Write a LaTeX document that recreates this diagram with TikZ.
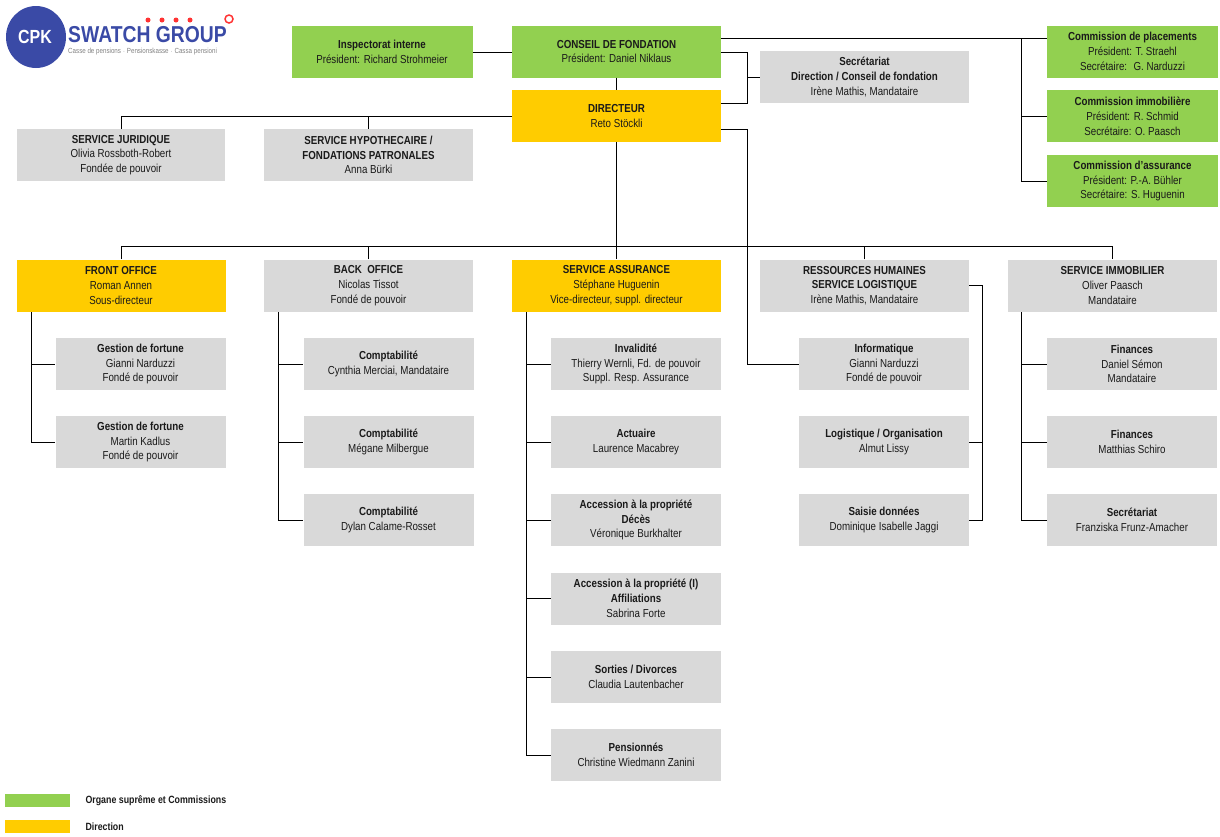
\documentclass[tikz,border=0pt]{standalone}
\usepackage{fontspec}
\setmainfont{Liberation Sans}[FakeStretch=0.84]
\definecolor{gr}{HTML}{92D050}
\definecolor{ye}{HTML}{FFCC00}
\definecolor{gy}{HTML}{D9D9D9}
\definecolor{lb}{HTML}{3A4AA6}
\definecolor{tx}{HTML}{1A1A1A}
\begin{document}
\begin{tikzpicture}[x=1pt,y=-1pt,
 bx/.style={inner sep=0pt,align=center,text=tx,font=\fontsize{11.6}{14.8}\selectfont,minimum height=52pt},
 G/.style={bx,fill=gy}, Gr/.style={bx,fill=gr}, Y/.style={bx,fill=ye},
 wl/.style={minimum width=209pt}, wc/.style={minimum width=171pt}, ws/.style={minimum width=170pt},
 ln/.style={draw=black,line width=0.9pt}]
\useasboundingbox (0,0) rectangle (1220,836);
% logo
\fill[lb] (36,37) ellipse (30 and 31);
\node[text=white,font=\bfseries\fontsize{19}{19}\selectfont] (cpk) at (35,37) {CPK};
\node[anchor=base west,text=lb,font=\bfseries\fontsize{23}{23}\selectfont,inner sep=0pt] (sg) at (68,42) {SWATCH GROUP};
\node[anchor=base west,text=gray,font=\fontsize{7.4}{8}\selectfont,inner sep=0pt] (tag) at (68,53) {Casse de pensions $\cdot$ Pensionskasse $\cdot$ Cassa pensioni};
\foreach \xx in {148,162,176,190}{\fill[red!80] (\xx,20) circle (2.5);}
\draw[red!80,line width=1.5pt] (229,19) circle (4);
% top
\node[Gr,minimum width=181pt] (insp) at (382,51.5) {\textbf{Inspectorat interne}\\Président: Richard Strohmeier};
\node[Gr,wl] (cons) at (616.5,51.5) {\textbf{CONSEIL DE FONDATION}\\Président: Daniel Niklaus};
\node[G,wl] (secr) at (864.5,77) {\textbf{Secrétariat}\\\textbf{Direction / Conseil de fondation}\\Irène Mathis, Mandataire};
\node[Y,wl] (dir) at (616.5,116) {\textbf{DIRECTEUR}\\Reto Stöckli};
\node[Gr,wc] (cp) at (1132.5,51.5) {\textbf{Commission de placements}\\Président: T. Straehl\\Secrétaire:~ G. Narduzzi};
\node[Gr,wc] (ci) at (1132.5,116) {\textbf{Commission immobilière}\\Président: R. Schmid\\Secrétaire: O. Paasch};
\node[Gr,wc] (ca) at (1132.5,181) {\textbf{Commission d’assurance}\\Président: P.-A. Bühler\\Secrétaire: S. Huguenin};
\node[G,minimum width=208pt] (jur) at (121,155) {\textbf{SERVICE JURIDIQUE}\\Olivia Rossboth-Robert\\Fondée de pouvoir};
\node[G,wl] (hyp) at (368.5,155) {\textbf{SERVICE HYPOTHECAIRE /}\\\textbf{FONDATIONS PATRONALES}\\Anna Bürki};
% row
\node[Y,wl] (fo) at (121,285.5) {\textbf{FRONT OFFICE}\\Roman Annen\\Sous-directeur};
\node[G,wl] (bo) at (368.5,285.5) {\textbf{BACK~ OFFICE}\\Nicolas Tissot\\Fondé de pouvoir};
\node[Y,wl] (sa) at (616.5,285.5) {\textbf{SERVICE ASSURANCE}\\Stéphane Huguenin\\Vice-directeur, suppl. directeur};
\node[G,wl] (rh) at (864.5,285.5) {\textbf{RESSOURCES HUMAINES}\\\textbf{SERVICE LOGISTIQUE}\\Irène Mathis, Mandataire};
\node[G,wl] (si) at (1112.5,285.5) {\textbf{SERVICE IMMOBILIER}\\Oliver Paasch\\Mandataire};
% subs
\node[G,ws] (fo1) at (140.5,364) {\textbf{Gestion de fortune}\\Gianni Narduzzi\\Fondé de pouvoir};
\node[G,ws] (fo2) at (140.5,442) {\textbf{Gestion de fortune}\\Martin Kadlus\\Fondé de pouvoir};
\node[G,ws] (bo1) at (388.5,364) {\textbf{Comptabilité}\\Cynthia Merciai, Mandataire};
\node[G,ws] (bo2) at (388.5,442) {\textbf{Comptabilité}\\Mégane Milbergue};
\node[G,ws] (bo3) at (388.5,520) {\textbf{Comptabilité}\\Dylan Calame-Rosset};
\node[G,ws] (sa1) at (636,364) {\textbf{Invalidité}\\Thierry Wernli, Fd. de pouvoir\\Suppl. Resp. Assurance};
\node[G,ws] (sa2) at (636,442) {\textbf{Actuaire}\\Laurence Macabrey};
\node[G,ws] (sa3) at (636,520) {\textbf{Accession à la propriété}\\\textbf{Décès}\\Véronique Burkhalter};
\node[G,ws] (sa4) at (636,598.5) {\textbf{Accession à la propriété (I)}\\\textbf{Affiliations}\\Sabrina Forte};
\node[G,ws] (sa5) at (636,677) {\textbf{Sorties / Divorces}\\Claudia Lautenbacher};
\node[G,ws] (sa6) at (636,755) {\textbf{Pensionnés}\\Christine Wiedmann Zanini};
\node[G,ws] (rh1) at (884,364) {\textbf{Informatique}\\Gianni Narduzzi\\Fondé de pouvoir};
\node[G,ws] (rh2) at (884,442) {\textbf{Logistique / Organisation}\\Almut Lissy};
\node[G,ws] (rh3) at (884,520) {\textbf{Saisie données}\\Dominique Isabelle Jaggi};
\node[G,ws] (si1) at (1132,364) {\textbf{Finances}\\Daniel Sémon\\Mandataire};
\node[G,ws] (si2) at (1132,442) {\textbf{Finances}\\Matthias Schiro};
\node[G,ws] (si3) at (1132,520) {\textbf{Secrétariat}\\Franziska Frunz-Amacher};
% legend
\node[Gr,minimum width=65pt,minimum height=13pt] (lg) at (37.5,800.5) {};
\node[Y,minimum width=65pt,minimum height=13pt] (ly) at (37.5,826.5) {};
\node[anchor=west,text=tx,font=\bfseries\fontsize{10.5}{12}\selectfont] (lgt) at (82,800.5) {Organe suprême et Commissions};
\node[anchor=west,text=tx,font=\bfseries\fontsize{10.5}{12}\selectfont] (lyt) at (82,826.5) {Direction};
% connectors
\coordinate (ct) at (1021,38);
\draw[ln] (insp.east |- 0,52) -- (cons.west |- 0,52);
\draw[ln] (cons.north east |- ct) -- (cp.west |- ct);
\draw[ln] (ct) |- (ci.west);
\draw[ln] (ct) |- (ca.west);
\draw[ln] (cons.east |- 0,52) -- (747,52) -- (747,103) -- (dir.east |- 0,103);
\draw[ln] (747,77) -- (secr.west);
\draw[ln] (cons.south) -- (dir.north);
\draw[ln] (dir.west) -- (121,116) -- (jur.north);
\draw[ln] (hyp.north) -- (hyp.north |- 0,116);
\draw[ln] (dir.east |- 0,129) -- (747,129) |- (rh1.west);
\draw[ln] (dir.south) -- (sa.north);
\draw[ln] (fo.north) -- (fo.north |- 0,246) -- (si.north |- 0,246) -- (si.north);
\foreach \n in {bo,rh}{\draw[ln] (\n.north) -- (\n.north |- 0,246);}
\foreach \n in {fo1,fo2}{\draw[ln] (31,312) |- (\n.west);}
\foreach \n in {bo1,bo2,bo3}{\draw[ln] (278,312) |- (\n.west);}
\foreach \n in {sa1,sa2,sa3,sa4,sa5,sa6}{\draw[ln] (526,312) |- (\n.west);}
\foreach \n in {si1,si2,si3}{\draw[ln] (1021,312) |- (\n.west);}
\draw[ln] (rh.east) -- (982,285.5) |- (rh3.east);
\draw[ln] (982,442) -- (rh2.east);
\end{tikzpicture}
\end{document}
